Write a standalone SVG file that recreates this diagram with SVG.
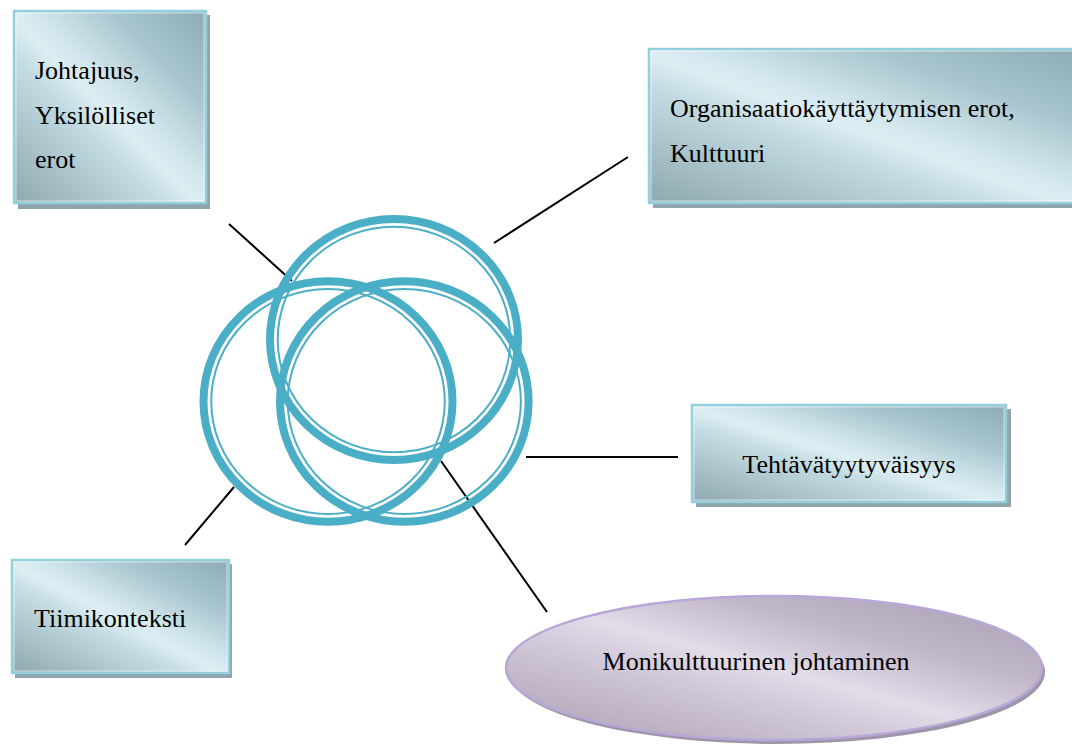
<svg xmlns="http://www.w3.org/2000/svg" width="1072" height="744" viewBox="0 0 1072 744">
  <defs>
    <linearGradient id="steel" x1="1" y1="0" x2="0" y2="1">
      <stop offset="0" stop-color="#8cabb4"/>
      <stop offset="0.25" stop-color="#a9c6ce"/>
      <stop offset="0.45" stop-color="#d2e7ed"/>
      <stop offset="0.52" stop-color="#ddeef3"/>
      <stop offset="0.62" stop-color="#c3dbe2"/>
      <stop offset="1" stop-color="#8ea8b0"/>
    </linearGradient>
    <linearGradient id="lavender" x1="1" y1="0" x2="0" y2="1">
      <stop offset="0" stop-color="#a69cb0"/>
      <stop offset="0.3" stop-color="#c0b7c9"/>
      <stop offset="0.5" stop-color="#e2dbe8"/>
      <stop offset="0.7" stop-color="#c9c0d0"/>
      <stop offset="1" stop-color="#a89eb1"/>
    </linearGradient>
  </defs>
  <style>
    .shadow { fill: #8ea5ad; }
    .box { fill: url(#steel); stroke: #93cfdc; stroke-width: 2.5; }
    .inner { fill: none; stroke: #ffffff; stroke-opacity: 0.6; stroke-width: 1; }
    .lbl { font-family: 'Liberation Serif', 'DejaVu Serif', serif; font-size: 26px; fill: #000000; }
    .ring-thick { fill: none; stroke: #4aaec7; stroke-width: 8; }
    .ring-thin { fill: none; stroke: #4aaec7; stroke-width: 2; }
    .conn { stroke: #000000; stroke-width: 2; fill: none; }
  </style>

  <rect width="1072" height="744" fill="#ffffff"/>

  <g id="connectors">
    <line class="conn" x1="229" y1="224" x2="292" y2="281"/>
    <line class="conn" x1="628" y1="157" x2="494" y2="243"/>
    <line class="conn" x1="526" y1="457" x2="678" y2="457"/>
    <line class="conn" x1="185" y1="545" x2="234" y2="487"/>
    <line class="conn" x1="441" y1="461" x2="547" y2="612"/>
  </g>

  <g id="rings">
    <g id="ring-top">
      <ellipse class="ring-thick" cx="394" cy="339.5" rx="124" ry="120.5"/>
      <ellipse class="ring-thin" cx="394" cy="339.5" rx="116.3" ry="112.8"/>
    </g>
    <g id="ring-left">
      <ellipse class="ring-thick" cx="328" cy="401.5" rx="124.5" ry="120.2"/>
      <ellipse class="ring-thin" cx="328" cy="401.5" rx="116.8" ry="112.5"/>
    </g>
    <g id="ring-right">
      <ellipse class="ring-thick" cx="404.3" cy="401.5" rx="124.3" ry="120.2"/>
      <ellipse class="ring-thin" cx="404.3" cy="401.5" rx="116.6" ry="112.5"/>
    </g>
  </g>

  <g id="node-johtajuus">
    <rect class="shadow" x="18" y="15" width="192" height="194"/>
    <rect class="box" x="14" y="11" width="192" height="192"/>
    <rect class="inner" x="16" y="13" width="188" height="188"/>
    <text class="lbl" font-family="Liberation Serif, DejaVu Serif, serif" x="35" y="79">Johtajuus,</text>
    <text class="lbl" font-family="Liberation Serif, DejaVu Serif, serif" x="35" y="123.5">Yksilölliset</text>
    <text class="lbl" font-family="Liberation Serif, DejaVu Serif, serif" x="35" y="168">erot</text>
  </g>

  <g id="node-organisaatio">
    <rect class="shadow" x="653" y="53" width="430" height="155"/>
    <rect class="box" x="649" y="49" width="430" height="154"/>
    <rect class="inner" x="651" y="51" width="430" height="150"/>
    <text class="lbl" font-family="Liberation Serif, DejaVu Serif, serif" x="670" y="117">Organisaatiokäyttäytymisen erot,</text>
    <text class="lbl" font-family="Liberation Serif, DejaVu Serif, serif" x="670" y="162">Kulttuuri</text>
  </g>

  <g id="node-tehtava">
    <rect class="shadow" x="696" y="409" width="315" height="98"/>
    <rect class="box" x="692" y="405" width="314" height="97"/>
    <rect class="inner" x="694" y="407" width="310" height="93"/>
    <text class="lbl" font-family="Liberation Serif, DejaVu Serif, serif" x="849" y="473" text-anchor="middle">Tehtävätyytyväisyys</text>
  </g>

  <g id="node-tiimikonteksti">
    <rect class="shadow" x="15" y="564" width="217" height="114"/>
    <rect class="box" x="12" y="560" width="217" height="113"/>
    <rect class="inner" x="14" y="562" width="213" height="109"/>
    <text class="lbl" font-family="Liberation Serif, DejaVu Serif, serif" x="34" y="627">Tiimikonteksti</text>
  </g>

  <g id="node-monikulttuurinen">
    <ellipse cx="777" cy="672" rx="268" ry="72" fill="#9f95a9"/>
    <ellipse cx="774" cy="668" rx="268" ry="72" fill="url(#lavender)" stroke="#b8a7d8" stroke-width="2.5"/>
    <text class="lbl" font-family="Liberation Serif, DejaVu Serif, serif" x="756" y="670" text-anchor="middle">Monikulttuurinen johtaminen</text>
  </g>
</svg>
